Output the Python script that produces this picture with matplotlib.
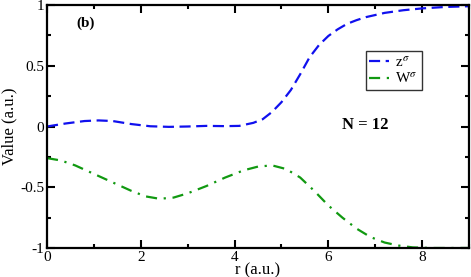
import matplotlib
matplotlib.use("Agg")
import matplotlib.pyplot as plt
from matplotlib.ticker import MultipleLocator

# values
r_z = [0.0, 0.4, 0.8, 1.1, 1.4, 1.8, 2.2, 2.6, 3.0, 3.4, 3.8, 4.1, 4.4, 4.6, 4.8,
       5.0, 5.2, 5.4, 5.6, 5.8, 6.0, 6.2, 6.4, 6.6, 6.8, 7.2, 7.6, 8.0, 8.5, 9.0]
z_sigma = [0.0, 0.025, 0.045, 0.05, 0.045, 0.02, 0.002, -0.003, 0.0, 0.005, 0.003,
           0.005, 0.03, 0.06, 0.12, 0.2, 0.3, 0.43, 0.57, 0.67, 0.745, 0.8, 0.845,
           0.875, 0.9, 0.935, 0.957, 0.972, 0.984, 0.99]

r_w = [0.0, 0.3, 0.6, 1.0, 1.4, 1.8, 2.1, 2.4, 2.7, 3.0, 3.4, 3.8, 4.2, 4.5, 4.8,
       5.1, 5.4, 5.7, 6.0, 6.3, 6.6, 6.9, 7.2, 7.5, 7.8, 8.2, 8.6, 9.0]
w_sigma = [-0.26, -0.28, -0.32, -0.39, -0.46, -0.53, -0.575, -0.595, -0.585, -0.55,
           -0.49, -0.42, -0.36, -0.33, -0.32, -0.35, -0.42, -0.53, -0.65, -0.75,
           -0.84, -0.91, -0.955, -0.98, -0.995, -1.0, -1.0, -1.0]

plt.rcParams['font.family'] = ['Liberation Serif', 'DejaVu Serif']
plt.rcParams['mathtext.fontset'] = 'stix'

fig = plt.figure(figsize=(4.71, 2.77), dpi=100)
ax = fig.add_axes([47 / 471, 1 - 248 / 277, 422 / 471, 243 / 277])

ax.plot(r_z, z_sigma, color='#1010ee', lw=1.6, dashes=(5, 2.5), label=r'z$^\sigma$')
ax.plot(r_w, w_sigma, color='#119911', lw=1.6, dashes=(5, 3, 1, 3), label=r'W$^\sigma$')

ax.set_xlim(0, 9)
ax.set_ylim(-1, 1)
ax.xaxis.set_major_locator(MultipleLocator(2))
ax.xaxis.set_minor_locator(MultipleLocator(1))
ax.yaxis.set_major_locator(MultipleLocator(0.5))
ax.yaxis.set_minor_locator(MultipleLocator(0.25))
ax.tick_params(which='both', direction='in', top=True, right=True, labelsize=11,
               width=1.5, pad=2)
ax.tick_params(which='major', length=6)
ax.tick_params(which='minor', length=3)
for s in ax.spines.values():
    s.set_linewidth(1.6)

ax.set_xticks([0, 2, 4, 6, 8])
ax.set_yticks([-1, -0.5, 0, 0.5, 1])
ax.set_yticklabels(['-1', '-0.5', '0', '0.5', '1'])

ax.set_xlabel('r (a.u.)', fontsize=12, labelpad=-1)
ax.set_ylabel('Value (a.u.)', fontsize=12, labelpad=2)

ax.text(0.07, 0.91, '(b)', transform=ax.transAxes, fontsize=11, fontweight='bold')
ax.text(6.3, -0.02, 'N = 12', fontsize=12, fontweight='bold')

leg = ax.legend(loc='upper left', bbox_to_anchor=(0.755, 0.81), fontsize=11,
                frameon=True, fancybox=False, handlelength=1.3, handletextpad=0.4,
                borderpad=0.25, labelspacing=0.1, borderaxespad=0)
leg.get_frame().set_edgecolor('black')
leg.get_frame().set_linewidth(1.0)

fig.savefig('out.png', dpi=100)
